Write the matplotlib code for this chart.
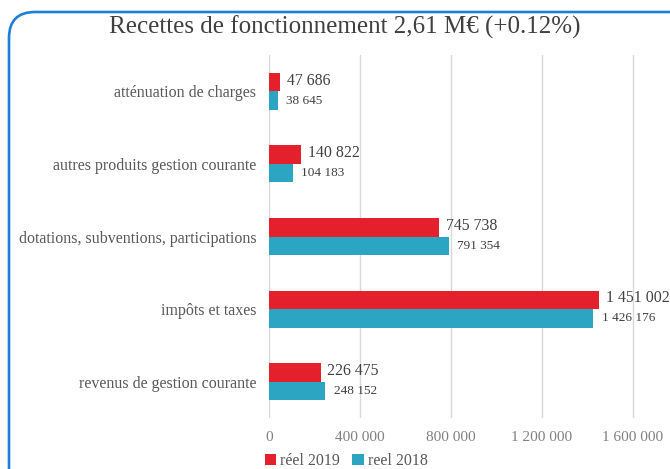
import matplotlib
matplotlib.use("Agg")
import matplotlib.pyplot as plt
import matplotlib.patches as patches
import matplotlib.transforms as mtransforms
import numpy as np

# data
categories = ["atténuation de charges",
              "autres produits gestion courante",
              "dotations, subventions, participations",
              "impôts et taxes",
              "revenus de gestion courante"]
reel_2019 = [47686, 140822, 745738, 1451002, 226475]
reel_2018 = [38645, 104183, 791354, 1426176, 248152]
x_ticks = [0, 400000, 800000, 1200000, 1600000]

red = "#e3202c"
blue = "#2ba5c2"
serif = ["Liberation Serif", "DejaVu Serif"]

def fmt(v):
    # french style thousands separator
    return "{:,}".format(v).replace(",", " ")

plt.rcParams['font.family'] = serif

fig = plt.figure(figsize=(6.7, 4.69), dpi=100)
ax = fig.add_axes([269/670, 1-418/469, 1-269/670, (418-55)/469])

y = np.arange(len(categories))
h = 0.255
ax.barh(y - h/2, reel_2019, height=h, color=red, label="réel 2019", zorder=3)
ax.barh(y + h/2, reel_2018, height=h, color=blue, label="reel 2018", zorder=3)

for i in range(len(categories)):
    ax.annotate(fmt(reel_2019[i]), (reel_2019[i], y[i] - h/2), xytext=(5, 1),
                textcoords="offset points", va="center", ha="left",
                fontsize=11.4, color="#404040", annotation_clip=False)
    ax.annotate(fmt(reel_2018[i]), (reel_2018[i], y[i] + h/2), xytext=(6, 0),
                textcoords="offset points", va="center", ha="left",
                fontsize=9.5, color="#404040", annotation_clip=False)

ax.set_ylim(len(categories) - 0.5, -0.5)
ax.set_xlim(0, (670-269)/91.0*400000)
ax.set_yticks(y)
ax.set_yticklabels(categories, fontsize=11.5, color="#595959")
ax.set_xticks(x_ticks)
ax.set_xticklabels([fmt(t) for t in x_ticks], fontsize=11, color="#808080")
ax.tick_params(axis="both", length=0)
ax.tick_params(axis="y", pad=9)
ax.tick_params(axis="x", pad=9)
ax.grid(axis="x", color="#d9d9d9", linewidth=1, zorder=0)
for s in ax.spines.values():
    s.set_visible(False)

fig.text(345/670, 1-27/469, "Recettes de fonctionnement 2,61 M€ (+0.12%)",
         ha="center", va="center", fontsize=18, color="#404040")

fig.legend(loc="center", bbox_to_anchor=(346/670, 1-461/469), ncol=2,
           frameon=False, fontsize=11.5, labelcolor="#595959",
           handlelength=0.7, handleheight=0.7, handletextpad=0.25,
           columnspacing=0.8, borderpad=0)

# rounded blue frame, in pixel coordinates
frame = patches.FancyBboxPatch((9, -25), 720, 469-12+25,
                               boxstyle="round,pad=0,rounding_size=26",
                               fill=False, edgecolor="#1f7fd4", linewidth=1.9,
                               transform=mtransforms.IdentityTransform())
fig.patches.append(frame)

fig.savefig("out.png", dpi=100)
